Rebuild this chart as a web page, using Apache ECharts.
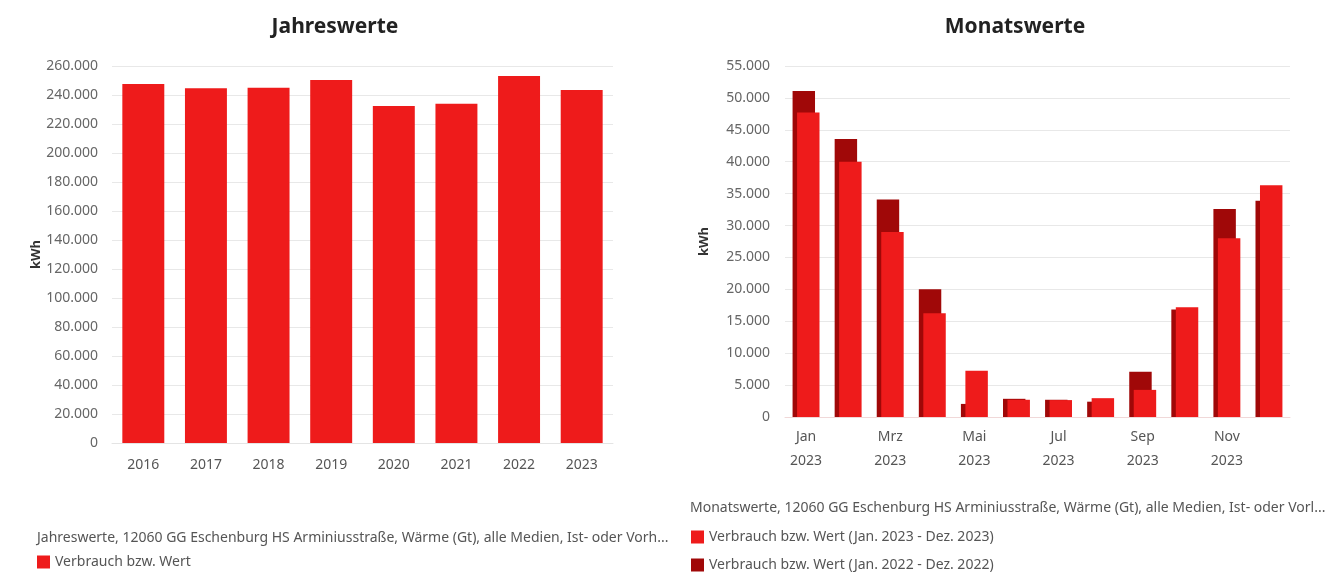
<!DOCTYPE html>
<html>
<head>
<meta charset="utf-8">
<script src="https://cdn.jsdelivr.net/npm/echarts@6/dist/echarts.min.js"></script>
<style>
  html, body { margin: 0; padding: 0; background: #fff; }
  #chart { width: 1342px; height: 572px; }
</style>
</head>
<body>
<div id="chart"></div>
<script>
// ---- data ----
const years = ['2016', '2017', '2018', '2019', '2020', '2021', '2022', '2023'];
const yearValues = [247600, 244600, 245000, 250300, 232400, 234000, 253100, 243400];

const months = ['Jan', 'Feb', 'Mrz', 'Apr', 'Mai', 'Jun', 'Jul', 'Aug', 'Sep', 'Okt', 'Nov', 'Dez'];
const monthYear = '2023';
const values2023 = [47700, 40000, 29000, 16250, 7250, 2700, 2650, 2950, 4250, 17200, 28000, 36300];
const values2022 = [51100, 43550, 34100, 20000, 2050, 2850, 2700, 2400, 7100, 16850, 32600, 33900];

const seriesYear = 'Verbrauch bzw. Wert';
const series2023 = 'Verbrauch bzw. Wert (Jan. 2023 - Dez. 2023)';
const series2022 = 'Verbrauch bzw. Wert (Jan. 2022 - Dez. 2022)';
const captionLeft = 'Jahreswerte, 12060 GG Eschenburg HS Arminiusstraße, Wärme (Gt), alle Medien, Ist- oder Vorh...';
const captionRight = 'Monatswerte, 12060 GG Eschenburg HS Arminiusstraße, Wärme (Gt), alle Medien, Ist- oder Vorl...';

// ---- styles ----
const FONT = '"Noto Sans", sans-serif';
const RED = '#ee1b1b';
const DARK = '#a00808';
const fmt = v => String(v).replace(/\B(?=(\d{3})+(?!\d))/g, '.');

const chart = echarts.init(document.getElementById('chart'));
chart.setOption({
  animation: false,
  textStyle: { fontFamily: FONT },
  title: [
    { text: 'Jahreswerte', left: 335, top: 17, textAlign: 'center', padding: 0,
      textStyle: { fontFamily: FONT, fontSize: 21, fontWeight: 'bold', color: '#222' } },
    { text: 'Monatswerte', left: 1015, top: 17, textAlign: 'center', padding: 0,
      textStyle: { fontFamily: FONT, fontSize: 21, fontWeight: 'bold', color: '#222' } },
    { text: captionLeft, left: 37, top: 531, padding: 0,
      textStyle: { fontFamily: FONT, fontSize: 14, fontWeight: 'normal', color: '#555' } },
    { text: captionRight, left: 690, top: 501, padding: 0,
      textStyle: { fontFamily: FONT, fontSize: 14, fontWeight: 'normal', color: '#555' } }
  ],
  legend: [
    { data: [seriesYear], orient: 'vertical', left: 37, top: 555, padding: 0,
      icon: 'rect', itemWidth: 13, itemHeight: 13, itemGap: 14,
      textStyle: { fontFamily: FONT, fontSize: 14, color: '#555' } },
    { data: [series2023, series2022], orient: 'vertical', left: 691, top: 530, padding: 0,
      icon: 'rect', itemWidth: 13, itemHeight: 13, itemGap: 14,
      textStyle: { fontFamily: FONT, fontSize: 14, color: '#555' } }
  ],
  grid: [
    { left: 112, top: 66, width: 501, height: 377 },
    { left: 785, top: 66, width: 505, height: 351 }
  ],
  xAxis: [
    { type: 'category', gridIndex: 0, data: years,
      axisLine: { lineStyle: { color: '#e4e4e4' } }, axisTick: { show: false },
      axisLabel: { color: '#555', fontSize: 14, margin: 15, fontFamily: FONT } },
    { type: 'category', gridIndex: 1, data: months,
      axisLine: { lineStyle: { color: '#f0d8d8' } }, axisTick: { show: false },
      axisLabel: { color: '#555', fontSize: 14, margin: 8, interval: 1, lineHeight: 24,
        fontFamily: FONT, formatter: m => m + '\n' + monthYear } }
  ],
  yAxis: [
    { type: 'value', gridIndex: 0, min: 0, max: 260000, interval: 20000,
      name: 'kWh', nameLocation: 'middle', nameGap: 61,
      nameTextStyle: { color: '#333', fontSize: 13, fontWeight: 'bold', fontFamily: FONT },
      axisLine: { show: false }, axisTick: { show: false },
      splitLine: { lineStyle: { color: '#e8e8e8' } },
      axisLabel: { color: '#666', fontSize: 14, margin: 14, formatter: fmt, fontFamily: FONT } },
    { type: 'value', gridIndex: 1, min: 0, max: 55000, interval: 5000,
      name: 'kWh', nameLocation: 'middle', nameGap: 74,
      nameTextStyle: { color: '#333', fontSize: 13, fontWeight: 'bold', fontFamily: FONT },
      axisLine: { show: false }, axisTick: { show: false },
      splitLine: { lineStyle: { color: '#e8e8e8' } },
      axisLabel: { color: '#666', fontSize: 14, margin: 15, formatter: fmt, fontFamily: FONT } }
  ],
  series: [
    { name: seriesYear, type: 'bar', xAxisIndex: 0, yAxisIndex: 0, data: yearValues,
      barCategoryGap: '33%', itemStyle: { color: RED } },
    { name: series2022, type: 'bar', xAxisIndex: 1, yAxisIndex: 1, data: values2022,
      barCategoryGap: '36%', barGap: '-80%', itemStyle: { color: DARK } },
    { name: series2023, type: 'bar', xAxisIndex: 1, yAxisIndex: 1, data: values2023,
      barCategoryGap: '36%', barGap: '-80%', itemStyle: { color: RED } }
  ]
});
</script>
</body>
</html>
